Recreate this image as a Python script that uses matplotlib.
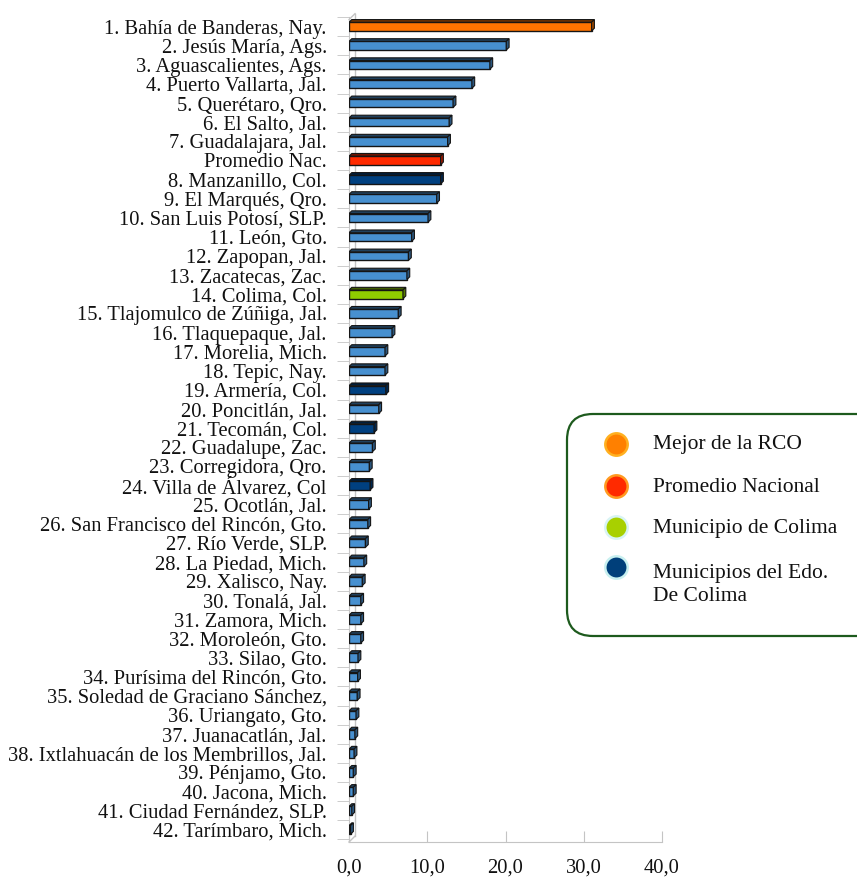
import matplotlib.pyplot as plt
import matplotlib.colors as mcolors
from matplotlib.patches import Polygon, FancyBboxPatch
import numpy as np

plt.rcParams['font.family'] = ['Liberation Serif', 'DejaVu Serif']

municipios = [
    '1. Bahía de Banderas, Nay.', '2. Jesús María, Ags.', '3. Aguascalientes, Ags.',
    '4. Puerto Vallarta, Jal.', '5. Querétaro, Qro.', '6. El Salto, Jal.',
    '7. Guadalajara, Jal.', 'Promedio Nac.', '8. Manzanillo, Col.',
    '9. El Marqués, Qro.', '10. San Luis Potosí, SLP.', '11. León, Gto.',
    '12. Zapopan, Jal.', '13. Zacatecas, Zac.', '14. Colima, Col.',
    '15. Tlajomulco de Zúñiga, Jal.', '16. Tlaquepaque, Jal.', '17. Morelia, Mich.',
    '18. Tepic, Nay.', '19. Armería, Col.', '20. Poncitlán, Jal.',
    '21. Tecomán, Col.', '22. Guadalupe, Zac.', '23. Corregidora, Qro.',
    '24. Villa de Álvarez, Col', '25. Ocotlán, Jal.', '26. San Francisco del Rincón, Gto.',
    '27. Río Verde, SLP.', '28. La Piedad, Mich.', '29. Xalisco, Nay.',
    '30. Tonalá, Jal.', '31. Zamora, Mich.', '32. Moroleón, Gto.',
    '33. Silao, Gto.', '34. Purísima del Rincón, Gto.', '35. Soledad de Graciano Sánchez,',
    '36. Uriangato, Gto.', '37. Juanacatlán, Jal.', '38. Ixtlahuacán de los Membrillos, Jal.',
    '39. Pénjamo, Gto.', '40. Jacona, Mich.', '41. Ciudad Fernández, SLP.',
    '42. Tarímbaro, Mich.',
]
valores = [
    31.0, 20.1, 18.0, 15.7, 13.3, 12.8, 12.6, 11.7, 11.7, 11.2,
    10.1, 8.0, 7.6, 7.4, 6.9, 6.3, 5.5, 4.6, 4.6, 4.7,
    3.8, 3.2, 3.0, 2.6, 2.7, 2.5, 2.4, 2.1, 1.9, 1.7,
    1.5, 1.5, 1.5, 1.15, 1.1, 1.05, 0.9, 0.75, 0.65, 0.55,
    0.55, 0.35, 0.2,
]
# grupo de cada barra
grupos = ['rco'] + ['otro'] * 6 + ['nac', 'edo'] + ['otro'] * 5 + ['colima'] + ['otro'] * 4 \
    + ['edo', 'otro', 'edo', 'otro', 'otro', 'edo'] + ['otro'] * 18

colores = {'rco': '#ff7400', 'nac': '#ff2a00', 'colima': '#8fcc00',
           'edo': '#004080', 'otro': '#4790d0'}
leyenda = ['Mejor de la RCO', 'Promedio Nacional', 'Municipio de Colima',
           'Municipios del Edo.\nDe Colima']
leyenda_col = ['#ff8000', '#ff2a00', '#a8d000', '#003f7a']
leyenda_borde = ['#ffb020', '#ff9a20', '#d8f4f4', '#c8f0f0']

fig = plt.figure(figsize=(8.57, 8.80), dpi=100)
W, H = 857, 880
ax = fig.add_axes([349 / W, 1 - 842 / H, (662 - 349) / W, (842 - 17) / H])

y = np.arange(len(municipios))
h = 0.45
bars = ax.barh(y, valores, height=h, color=[colores[g] for g in grupos],
               edgecolor='#151515', linewidth=1.0, zorder=3)

# efecto 3D: cara superior y lateral
dx, dy = 0.36, 0.14
def sombra(c, f):
    r, g, b = mcolors.to_rgb(c)
    return (r * f, g * f, b * f)

for b, g in zip(bars, grupos):
    x0, x1 = b.get_x(), b.get_x() + b.get_width()
    yt, yb = b.get_y(), b.get_y() + b.get_height()
    top = Polygon([(x0, yt), (x1, yt), (x1 + dx, yt - dy), (x0 + dx, yt - dy)],
                  closed=True, facecolor=sombra(colores[g], 0.45),
                  edgecolor='#151515', linewidth=0.8, zorder=3)
    side = Polygon([(x1, yt), (x1 + dx, yt - dy), (x1 + dx, yb - dy), (x1, yb)],
                   closed=True, facecolor=sombra(colores[g], 0.6),
                   edgecolor='#151515', linewidth=0.8, zorder=3)
    ax.add_patch(top)
    ax.add_patch(side)

ax.set_xlim(0, 40)
ax.set_ylim(len(municipios) - 0.365, -0.365)

gris = '#c4c4c4'
# pared del fondo
wx, wy = 0.77, 0.31
ylo, yhi = ax.get_ylim()
ax.plot([wx, wx], [ylo - wy, yhi - wy], color=gris, lw=1, zorder=1, clip_on=False)
ax.plot([0, wx], [ylo, ylo - wy], color=gris, lw=1, zorder=1, clip_on=False)
ax.plot([0, wx], [yhi, yhi - wy], color=gris, lw=1, zorder=1, clip_on=False)

for s in ['top', 'right']:
    ax.spines[s].set_visible(False)
for s in ['left', 'bottom']:
    ax.spines[s].set_color(gris)

ax.set_yticks(y)
ax.set_yticklabels(municipios, fontsize=14.8, color='#111111')
ax.set_yticks(np.arange(len(municipios) + 1) - 0.5, minor=True)
ax.tick_params(axis='y', which='major', length=0, pad=16)
ax.tick_params(axis='y', which='minor', length=9, color=gris, direction='out')

ax.set_xticks([0, 10, 20, 30, 40])
ax.set_xticklabels(['0,0', '10,0', '20,0', '30,0', '40,0'], fontsize=14.8, color='#111111')
ax.tick_params(axis='x', length=8, direction='in', color=gris, pad=12)

# leyenda
lax = fig.add_axes([0, 0, 1, 1])
lax.set_xlim(0, W)
lax.set_ylim(H, 0)
lax.axis('off')
caja = FancyBboxPatch((567, 414), 330, 222, boxstyle='round,pad=0,rounding_size=26',
                      facecolor='white', edgecolor='#1d5a1d', linewidth=1.6, clip_on=False)
lax.add_patch(caja)
ly = [444, 486, 527, 567]
ty = [444, 487, 529, 585]
for c, e, yy, t, tt in zip(leyenda_col, leyenda_borde, ly, leyenda, ty):
    lax.scatter([616], [yy], s=260, color=c, edgecolors=e, linewidths=1.8, zorder=5)
    lax.text(653, tt, t, fontsize=15.5, va='center', ha='left', color='#111111',
             linespacing=1.25)

fig.savefig('out.png', dpi=100)
